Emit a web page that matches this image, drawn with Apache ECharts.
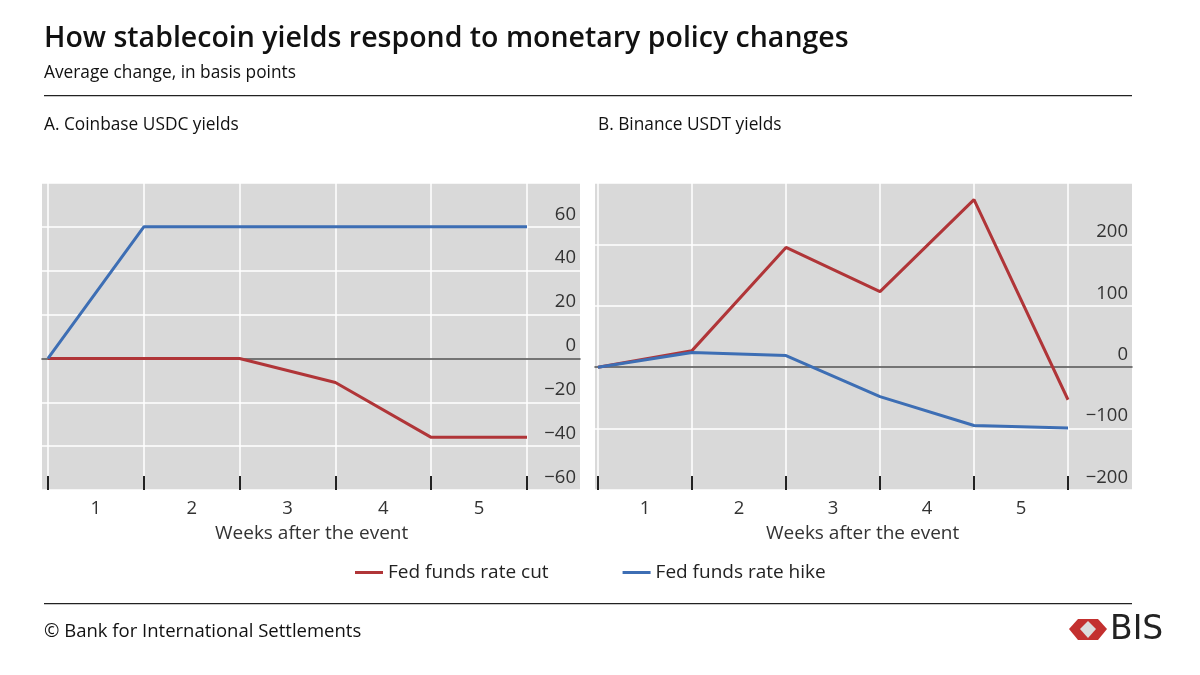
<!DOCTYPE html>
<html>
<head>
<meta charset="utf-8">
<script src="https://cdn.jsdelivr.net/npm/echarts@6/dist/echarts.min.js"></script>
<style>html,body{margin:0;padding:0;background:#fff}#c{width:1200px;height:675px}</style>
</head>
<body>
<div id="c"></div>
<script>
// ---- data ----
const weeks = [0, 1, 2, 3, 4, 5];
const weekLabels = ['1', '2', '3', '4', '5'];
const coinbaseCut = [0, 0, 0, -11, -36, -36];
const coinbaseHike = [0, 60, 60, 60, 60, 60];
const binanceCut = [0, 27, 195, 123, 273, -53];
const binanceHike = [0, 24, 19, -48, -95, -99];
const ticksA = {min: -60, max: 80, interval: 20};
const ticksB = {min: -200, max: 300, interval: 100};
const seriesNames = ['Fed funds rate cut', 'Fed funds rate hike'];

const RED = '#b03538', BLUE = '#3d6eb4', BG = '#d9d9d9';
const FONT = '"Open Sans", "Noto Sans", sans-serif';
const minus = v => String(v).replace('-', '\u2212');

const pairs = (xs, ys) => xs.map((x, i) => [x, ys[i]]);

const chart = echarts.init(document.getElementById('c'));

function outerGrid(left, width) { return {left, width, top: 183, height: 307, show: true, backgroundColor: BG, borderWidth: 0}; }
function innerGrid(left, width) { return {left, width, top: 183, height: 307}; }

const grids = [outerGrid(42, 538), innerGrid(48, 479), outerGrid(595, 537), innerGrid(598, 470)];

const xAxes = [];
const yAxes = [];
[[0, ticksA], [2, ticksB]].forEach(([g, t]) => {
  // outer: zero line + horizontal grid + labels
  xAxes.push({gridIndex: g, type: 'value', min: 0, max: 1, z: 1,
    axisLine: {show: true, onZero: true, lineStyle: {color: '#4a4a4a', width: 1.5}},
    axisTick: {show: false}, axisLabel: {show: false}, splitLine: {show: false}});
  yAxes.push({gridIndex: g, type: 'value', position: 'right', min: t.min, max: t.max, interval: t.interval,
    axisLine: {show: false}, axisTick: {show: false},
    splitLine: {show: true, lineStyle: {color: '#fff', width: 1.5}},
    axisLabel: {inside: true, margin: 4, verticalAlign: 'bottom', padding: [0, 0, 3, 0], showMaxLabel: false,
      fontFamily: FONT, fontSize: 18.5, color: '#333', formatter: minus}});
  // inner: category ticks/labels, vertical grid
  xAxes.push({gridIndex: g + 1, type: 'category', data: weekLabels, boundaryGap: true, position: 'bottom', z: 0,
    axisLine: {show: false, onZero: false},
    axisTick: {show: true, inside: true, length: 14, interval: 0, lineStyle: {color: '#222', width: 2}},
    splitLine: {show: true, interval: 0, lineStyle: {color: '#fff', width: 1.5}},
    axisLabel: {margin: 9, fontFamily: FONT, fontSize: 18.5, color: '#333'}});
  xAxes.push({gridIndex: g + 1, type: 'value', min: 0, max: 5, show: false, axisLine: {onZero: false}});
  yAxes.push({gridIndex: g + 1, type: 'value', min: t.min, max: t.max, interval: t.interval, show: false});
});

function line(name, color, xi, yi, ys) {
  return {name, type: 'line', xAxisIndex: xi, yAxisIndex: yi, data: pairs(weeks, ys),
    symbol: 'none', z: 5, lineStyle: {color, width: 3}, itemStyle: {color}};
}

const series = [
  line(seriesNames[0], RED, 2, 1, coinbaseCut),
  line(seriesNames[1], BLUE, 2, 1, coinbaseHike),
  line(seriesNames[0], RED, 5, 3, binanceCut),
  line(seriesNames[1], BLUE, 5, 3, binanceHike)
];

const txt = (x, y, text, size, weight, fill) => ({type: 'text', left: x, top: y,
  style: {text, font: `${weight || 400} ${size}px ${FONT}`, fill: fill || '#111'}});

chart.setOption({
  animation: false,
  grid: grids,
  xAxis: xAxes,
  yAxis: yAxes,
  series,
  legend: {data: seriesNames, left: 350, top: 558, itemWidth: 28, itemHeight: 3, icon: 'rect', itemGap: 74,
    textStyle: {fontFamily: FONT, fontSize: 19, color: '#222'}},
  graphic: [
    txt(44, 24, 'How stablecoin yields respond to monetary policy changes', 28.5, 600),
    txt(44, 65, 'Average change, in basis points', 17.3),
    {type: 'rect', shape: {x: 44, y: 95, width: 1088, height: 1.2}, style: {fill: '#222'}},
    txt(44, 117, 'A. Coinbase USDC yields', 17.3),
    txt(598, 117, 'B. Binance USDT yields', 17.3),
    txt(215, 524, 'Weeks after the event', 19, 400, '#333'),
    txt(766, 524, 'Weeks after the event', 19, 400, '#333'),
    {type: 'rect', shape: {x: 44, y: 603, width: 1088, height: 1.2}, style: {fill: '#222'}},
    txt(44, 622, '\u00A9 Bank for International Settlements', 18.5),
    {type: 'polygon', shape: {points: [[1069, 629], [1078, 619], [1098, 619], [1107, 629], [1098, 640], [1078, 640]]}, style: {fill: '#c3302f'}},
    {type: 'polygon', shape: {points: [[1080, 629], [1088, 621], [1096, 629], [1088, 638]]}, style: {fill: '#dcdcdc'}},
    {type: 'text', left: 1110, top: 614, style: {text: 'BIS', font: `400 33px "DejaVu Sans", sans-serif`, fill: '#222'}}
  ]
});
</script>
</body>
</html>
